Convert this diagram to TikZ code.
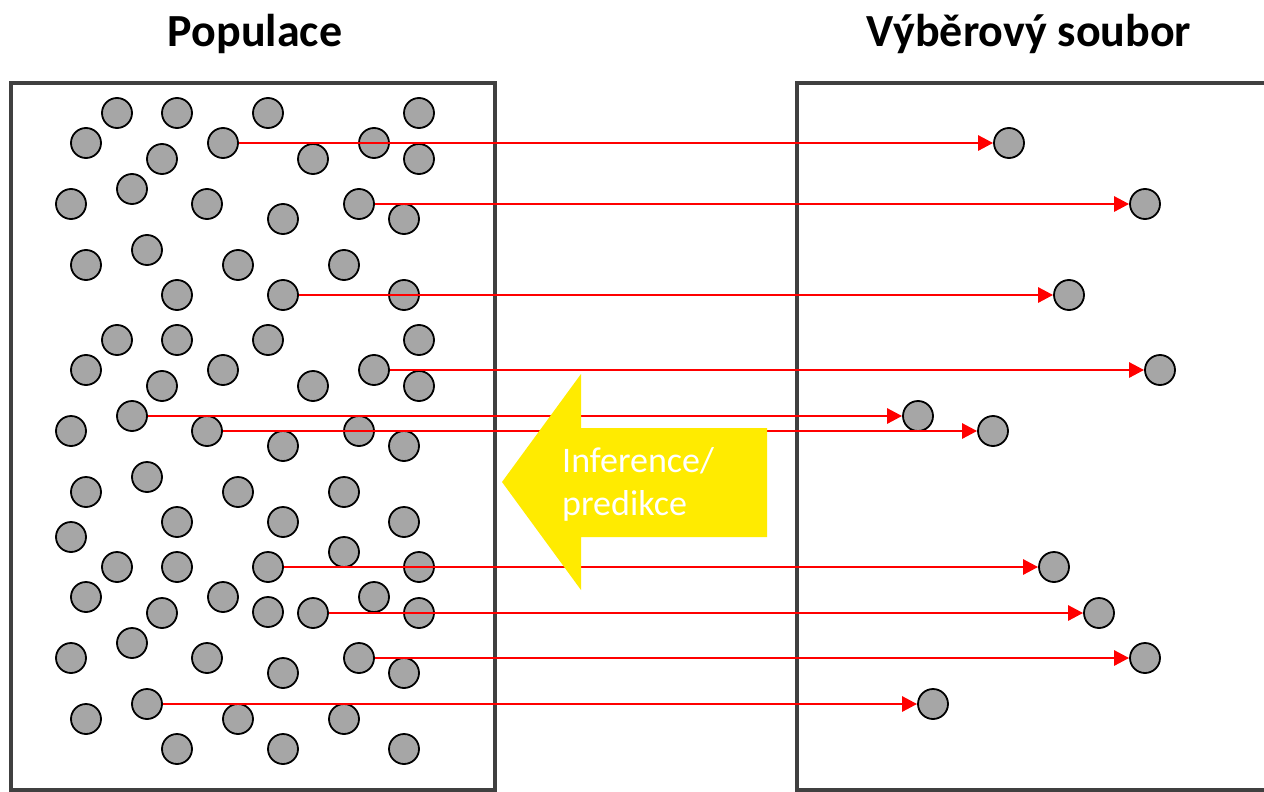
\documentclass[tikz,border=0pt]{standalone}
\usepackage{fontspec}
\setmainfont{Carlito}
\usetikzlibrary{arrows.meta,calc}
\definecolor{framegray}{HTML}{404040}
\definecolor{dotgray}{HTML}{A6A6A6}
\definecolor{infyellow}{RGB}{255,235,0}
\definecolor{linkred}{HTML}{FF0000}
\tikzset{
  dot/.style={circle, draw=black, line width=1.8pt, fill=dotgray, minimum size=30pt, inner sep=0pt},
  frame/.style={draw=framegray, line width=4.5pt},
  link/.style={draw=linkred, line width=2.8pt, -{Triangle[length=15pt,width=15pt]}},
  title/.style={font=\fontsize{46}{55}\selectfont\bfseries, anchor=base, inner sep=0pt},
  inftext/.style={font=\fontsize{36}{43}\selectfont, text=white, anchor=base west, inner sep=0pt}
}
\begin{document}
\begin{tikzpicture}[x=1pt, y=-1pt]
\useasboundingbox (0,0) rectangle (1264,792);
\clip (0,0) rectangle (1264,792);
% titles
\node[title] (tpop) at (255,47) {Populace};
\node[title] (tsam) at (1029,47) {Výběrový soubor};
% frames
\draw[frame] (11,790) -- (11,83) -- (495,83) -- (495,790) -- cycle;
\draw[frame] (797,790) -- (797,83) -- (1281,83) -- (1281,790) -- cycle;
% population: three identical blocks
\foreach \blk/\dy in {1/0, 2/227, 3/454}{
  \foreach \x/\y [count=\i] in {117/113, 177/113, 268/113, 419/113,
      86/143, 223/143, 374/143,
      162/159, 313/159, 419/159,
      132/189,
      71/204, 207/204, 359/204,
      283/219, 404/219,
      147/250,
      86/265, 238/265, 344/265,
      177/295, 283/295, 404/295}{
    \node[dot] (b\blk-\i) at (\x,\y+\dy) {};
  }
}
\node[dot] (e1) at (71,537) {};
\node[dot] (e2) at (344,552) {};
\node[dot] (e3) at (268,612) {};
% sample circles (shifted copies of the drawn ones)
\foreach \src [count=\k] in {b1-6, b1-14, b1-22, b2-7, b2-11, b2-13, b3-3, b3-9, b3-14, b3-17}{
  \node[dot] (s\k) at ($(\src)+(786,0)$) {};
  \draw[link] (\src) -- (s\k);
}
% inference arrow
\fill[infyellow] (502,482) -- (581,374) -- (581,428) -- (767,428) -- (767,537)
   -- (581,537) -- (581,590) -- cycle;
\node[inftext] (inf1) at (562,472) {Inference/};
\node[inftext] (inf2) at (562,515) {predikce};
\end{tikzpicture}
\end{document}
